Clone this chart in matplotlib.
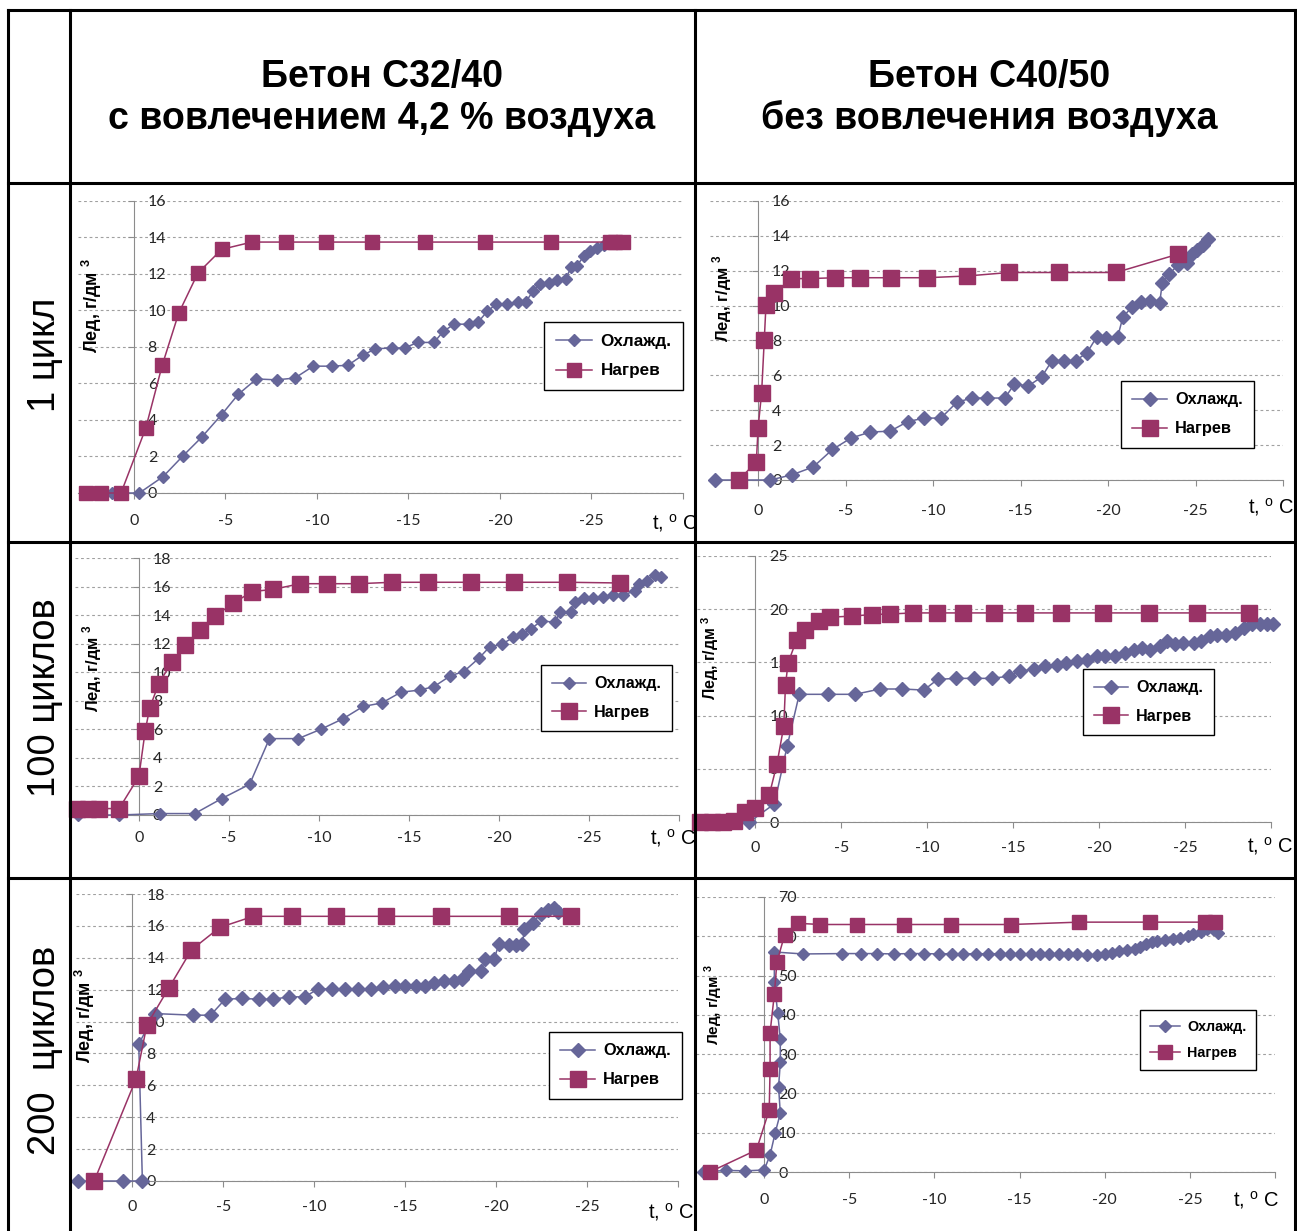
import matplotlib.pyplot as plt
from matplotlib.lines import Line2D

W, H = 1297, 1231
plt.rcParams['font.family'] = ['Liberation Sans', 'DejaVu Sans']
plt.rcParams['mathtext.fontset'] = 'custom'
plt.rcParams['mathtext.rm'] = 'Liberation Sans'
plt.rcParams['mathtext.bf'] = 'Liberation Sans:bold'

COOL = '#666699'
HEAT = '#993366'

# ---- данные: температура (°C) и лед (г/дм3) ----
# C32/40, 1 цикл
p1_cool_t = [2.6, 1.2, -0.3, -1.6, -2.7, -3.7, -4.8, -5.7, -6.7, -7.8, -8.8, -9.8, -10.8, -11.7,
             -12.5, -13.2, -14.1, -14.8, -15.5, -16.4, -16.9, -17.5, -18.3, -18.8, -19.3, -19.8,
             -20.4, -21.0, -21.4, -21.8, -22.2, -22.7, -23.1, -23.6, -23.9, -24.2, -24.6, -24.9,
             -25.3, -25.7, -26.0]
p1_cool_v = [0, 0, 0, 0.9, 2.05, 3.05, 4.3, 5.4, 6.25, 6.2, 6.3, 6.95, 6.95, 7.0, 7.55, 7.9, 7.95,
             7.95, 8.25, 8.25, 8.85, 9.25, 9.25, 9.35, 9.95, 10.35, 10.35, 10.45, 10.45, 11.05,
             11.45, 11.5, 11.65, 11.75, 12.4, 12.45, 13.0, 13.25, 13.45, 13.6, 13.75]
p1_heat_t = [2.6, 1.8, 0.7, -0.65, -1.55, -2.45, -3.5, -4.8, -6.45, -8.3, -10.5, -13.0, -15.9,
             -19.2, -22.8, -26.0, -26.3, -26.7]
p1_heat_v = [0, 0, 0, 3.55, 7.0, 9.85, 12.05, 13.35, 13.75, 13.75, 13.75, 13.75, 13.75, 13.75,
             13.75, 13.75, 13.75, 13.75]

# C40/50, 1 цикл
p2_cool_t = [2.45, 1.1, -0.7, -1.95, -3.15, -4.25, -5.3, -6.4, -7.55, -8.55, -9.5, -10.45, -11.35,
             -12.2, -13.1, -14.1, -14.65, -15.45, -16.2, -16.8, -17.5, -18.15, -18.8, -19.35,
             -19.9, -20.55, -20.85, -21.35, -21.9, -22.4, -22.95, -23.1, -23.5, -24.0, -24.5,
             -24.8, -25.1, -25.4, -25.7]
p2_cool_v = [0, 0, 0, 0.3, 0.75, 1.75, 2.4, 2.75, 2.8, 3.35, 3.55, 3.55, 4.45, 4.7, 4.7, 4.7, 5.5,
             5.4, 5.9, 6.85, 6.85, 6.85, 7.3, 8.2, 8.15, 8.2, 9.35, 9.9, 10.2, 10.25, 10.15, 11.3,
             11.8, 12.35, 12.45, 12.95, 13.2, 13.5, 13.8]
p2_heat_t = [1.1, 0.1, 0.0, -0.2, -0.35, -0.45, -0.9, -1.9, -2.95, -4.4, -5.85, -7.6, -9.65,
             -11.95, -14.35, -17.2, -20.45, -24.0]
p2_heat_v = [0, 1.05, 3.0, 5.0, 8.0, 10.05, 10.7, 11.55, 11.55, 11.6, 11.6, 11.6, 11.6, 11.7,
             11.9, 11.9, 11.9, 12.95]

# C32/40, 100 циклов
p3_cool_t = [3.4, 1.1, -1.15, -3.1, -4.6, -6.15, -7.25, -8.85, -10.1, -11.35, -12.45, -13.5,
             -14.55, -15.6, -16.4, -17.3, -18.05, -18.9, -19.5, -20.15, -20.8, -21.3, -21.8,
             -22.35, -23.1, -23.4, -24.0, -24.2, -24.7, -25.25, -25.8, -26.35, -26.9, -27.55,
             -27.8, -28.2, -28.65, -29.0]
p3_cool_v = [0, 0, 0.1, 0.1, 1.15, 2.15, 5.35, 5.35, 6.0, 6.75, 7.6, 7.85, 8.6, 8.75, 9.0, 9.75,
             10.05, 11.0, 11.8, 11.95, 12.45, 12.65, 13.05, 13.6, 13.5, 14.2, 14.2, 14.9, 15.2,
             15.2, 15.3, 15.4, 15.4, 15.7, 16.2, 16.4, 16.8, 16.7]
p3_heat_t = [3.45, 2.85, 2.2, 1.1, 0.0, -0.35, -0.6, -1.1, -1.85, -2.55, -3.4, -4.25, -5.25, -6.3,
             -7.45, -8.95, -10.45, -12.2, -14.05, -16.05, -18.45, -20.85, -23.8, -26.75]
p3_heat_v = [0.45, 0.45, 0.45, 0.45, 2.7, 5.9, 7.5, 9.2, 10.75, 11.9, 12.95, 13.95, 14.85, 15.65,
             15.8, 16.2, 16.2, 16.2, 16.3, 16.3, 16.3, 16.3, 16.3, 16.25]

# C40/50, 100 циклов
p4_cool_t = [3.25, 2.1, 0.35, -1.1, -1.85, -2.55, -4.25, -5.8, -7.25, -8.55, -9.8, -10.6, -11.65,
             -12.7, -13.75, -14.75, -15.4, -16.2, -16.85, -17.55, -18.1, -18.7, -19.3, -19.85,
             -20.35, -20.95, -21.5, -22.0, -22.5, -22.95, -23.55, -23.95, -24.4, -24.9, -25.5,
             -25.95, -26.45, -26.85, -27.4, -27.9, -28.4, -28.9, -29.35, -29.75, -30.1]
p4_cool_v = [0, 0, 0, 1.7, 7.15, 12.0, 12.0, 12.0, 12.5, 12.5, 12.4, 13.4, 13.5, 13.5, 13.5, 13.7,
             14.2, 14.35, 14.65, 14.8, 14.95, 15.1, 15.25, 15.6, 15.6, 15.6, 15.9, 16.2, 16.4,
             16.2, 16.5, 17.0, 16.7, 16.85, 16.85, 17.0, 17.5, 17.6, 17.6, 17.8, 18.25, 18.6,
             18.6, 18.6, 18.65]
p4_heat_t = [3.25, 2.55, 1.9, 1.25, 0.6, 0.0, -0.8, -1.25, -1.65, -1.75, -1.9, -2.4, -2.9, -3.7,
             -4.35, -5.6, -6.8, -7.85, -9.15, -10.55, -12.1, -13.9, -15.7, -17.8, -20.2, -22.9,
             -25.7, -28.7]
p4_heat_v = [0, 0, 0, 0.1, 0.9, 1.35, 2.5, 5.45, 9.0, 12.9, 14.95, 17.15, 18.0, 18.9, 19.25,
             19.35, 19.5, 19.55, 19.65, 19.65, 19.65, 19.65, 19.65, 19.65, 19.65, 19.65, 19.65,
             19.65]

# C32/40, 200 циклов
p5_cool_t = [3.0, 0.5, -0.55, -0.35, -1.25, -3.35, -4.3, -5.1, -6.05, -6.95, -7.75, -8.6, -9.5,
             -10.2, -11.0, -11.7, -12.4, -13.1, -13.8, -14.45, -15.0, -15.6, -16.1, -16.6, -17.15,
             -17.7, -18.15, -18.5, -19.15, -19.4, -19.9, -20.15, -20.7, -21.1, -21.45, -21.55,
             -22.0, -22.45, -22.85, -23.2, -23.4]
p5_cool_v = [0, 0, 0, 8.6, 10.5, 10.4, 10.4, 11.4, 11.45, 11.4, 11.4, 11.55, 11.55, 12.05, 12.05,
             12.05, 12.05, 12.05, 12.15, 12.25, 12.25, 12.25, 12.25, 12.4, 12.55, 12.55, 12.65,
             13.2, 13.15, 13.9, 13.95, 14.85, 14.8, 14.8, 14.85, 15.8, 16.2, 16.75, 17.0, 17.1,
             16.85]
p5_heat_t = [2.1, -0.2, -0.8, -2.0, -3.25, -4.8, -6.65, -8.75, -11.2, -13.95, -16.95, -20.7, -24.1]
p5_heat_v = [0, 6.4, 9.8, 12.1, 14.5, 15.9, 16.6, 16.6, 16.6, 16.6, 16.6, 16.6, 16.6]

# C40/50, 200 циклов
p6_cool_t = [3.6, 2.25, 1.1, 0.0, -0.35, -0.65, -0.95, -0.85, -0.95, -0.95, -0.8, -0.6, -0.6,
             -2.3, -4.6, -5.7, -6.65, -7.6, -8.55, -9.4, -10.25, -11.05, -11.7, -12.45, -13.15,
             -13.85, -14.45, -15.05, -15.65, -16.2, -16.75, -17.3, -17.85, -18.4, -18.95, -19.55,
             -20.0, -20.4, -20.85, -21.3, -21.75, -22.1, -22.45, -22.75, -23.1, -23.55, -24.0,
             -24.45, -24.9, -25.2, -25.65, -26.0, -26.35, -26.65]
p6_cool_v = [0, 0.4, 0.3, 0.5, 4.3, 10.0, 14.9, 21.7, 27.9, 33.8, 40.4, 48.3, 56.0,
             55.5, 55.6, 55.6, 55.6, 55.5, 55.6, 55.6, 55.5, 55.6, 55.5, 55.6, 55.5,
             55.6, 55.5, 55.6, 55.5, 55.6, 55.5, 55.5, 55.4, 55.4, 55.3, 55.3,
             55.4, 55.7, 56.2, 56.5, 56.8, 57.2, 58.0, 58.5, 58.9, 59.1, 59.3,
             59.6, 60.2, 60.6, 61.0, 61.8, 61.8, 60.8]
p6_heat_t = [3.2, 0.45, -0.3, -0.35, -0.35, -0.6, -0.75, -1.2, -2.0, -3.3, -5.45, -8.2, -11.0,
             -14.5, -18.5, -22.65, -25.9, -26.45]
p6_heat_v = [0, 5.6, 15.8, 26.3, 35.5, 45.2, 53.4, 60.3, 63.3, 63.0, 63.0, 63.0, 63.0, 63.0,
             63.6, 63.6, 63.6, 63.6]

x_ticks = [0, -5, -10, -15, -20, -25, -30]
x_labels = ['0', '-5', '-10', '-15', '-20', '-25', '']

col_titles = ['Бетон С32/40\nс вовлечением 4,2 % воздуха',
              'Бетон С40/50\nбез вовлечения воздуха']
row_titles = ['1 цикл', '100 циклов', '200  циклов']
series_names = ['Охлажд.', 'Нагрев']
y_title = 'Лед, г/дм $^{\\mathbf{3}}$'
t_title = 't, $^{\\mathrm{o}}$ C'

fig = plt.figure(figsize=(W / 100, H / 100), dpi=100)


def fx(px):
    return px / W


def fy(py):
    return 1 - py / H


# сетка таблицы
for x in (8, 70, 695, 1295):
    fig.add_artist(Line2D([fx(x), fx(x)], [fy(10), fy(1231)], color='black', lw=2.2, zorder=10))
for y in (10, 183, 542, 878):
    fig.add_artist(Line2D([fx(8), fx(1297)], [fy(y), fy(y)], color='black', lw=2.2, zorder=10))

fig.text(fx(382), fy(98), col_titles[0], ha='center', va='center', fontsize=27,
         weight='bold', linespacing=1.2)
fig.text(fx(989), fy(98), col_titles[1], ha='center', va='center', fontsize=27,
         weight='bold', linespacing=1.2)
for name, yc in zip(row_titles, (355, 698, 1050)):
    fig.text(fx(45), fy(yc), name, ha='center', va='center', fontsize=27.5, rotation=90)

# (left, right, top, bottom) в пикселях
panels = [
    dict(cool=(p1_cool_t, p1_cool_v), heat=(p1_heat_t, p1_heat_v), box=(78, 683, 201, 493),
         xlim=(3.05, -30), ymax=16, ystep=2, leg=(544, 322), ylab=(92, 305), yfs=13,
         tlab=(652, 523), ms=(6.6, 10), xpad=10.8, lfs=12.3),
    dict(cool=(p2_cool_t, p2_cool_v), heat=(p2_heat_t, p2_heat_v), box=(710, 1283, 201, 480),
         xlim=(2.75, -30), ymax=16, ystep=2, leg=(1121, 381), ylab=(722, 298), yfs=12,
         tlab=(1248, 507), ms=(7.5, 11.5), xpad=13, lfs=11.8),
    dict(cool=(p3_cool_t, p3_cool_v), heat=(p3_heat_t, p3_heat_v), box=(75, 679, 558, 815),
         xlim=(3.55, -30), ymax=18, ystep=2, leg=(541, 665), ylab=(92, 668), yfs=12,
         tlab=(650, 838), ms=(6.5, 11), xpad=7.2, lfs=11.6),
    dict(cool=(p4_cool_t, p4_cool_v), heat=(p4_heat_t, p4_heat_v), box=(697, 1271, 556, 822),
         xlim=(3.4, -30), ymax=25, ystep=5, leg=(1083, 669), ylab=(710, 658), yfs=11.5,
         tlab=(1247, 846), ms=(7, 11.5), xpad=9.4, lfs=11.6),
    dict(cool=(p5_cool_t, p5_cool_v), heat=(p5_heat_t, p5_heat_v), box=(76, 678, 894, 1181),
         xlim=(3.1, -30), ymax=18, ystep=2, leg=(549, 1032), ylab=(85, 1015), yfs=13,
         tlab=(648, 1212), ms=(7.5, 11), xpad=10, lfs=11.8),
    dict(cool=(p6_cool_t, p6_cool_v), heat=(p6_heat_t, p6_heat_v), box=(696, 1275, 897, 1172),
         xlim=(4, -29.5), ymax=70, ystep=10, leg=(1140, 1010), ylab=(714, 1005), yfs=11,
         tlab=(1233, 1200), ms=(6.5, 10.5), xpad=10.8, lfs=10.3),
]

for p in panels:
    l, r, t, b = p['box']
    ax = fig.add_axes([fx(l), fy(b), (r - l) / W, (b - t) / H])
    ax.set_facecolor('none')
    ax.set_xlim(*p['xlim'])
    ax.set_ylim(0, p['ymax'])

    c_line, = ax.plot(p['cool'][0], p['cool'][1], color=COOL, lw=1.1, marker='D',
                      ms=p['ms'][0], mec=COOL, clip_on=False, zorder=3, label=series_names[0])
    h_line, = ax.plot(p['heat'][0], p['heat'][1], color=HEAT, lw=1.1, marker='s',
                      ms=p['ms'][1], mec=HEAT, clip_on=False, zorder=4, label=series_names[1])

    for s in ('top', 'right'):
        ax.spines[s].set_visible(False)
    ax.spines['left'].set_position(('data', 0))
    for s in ('left', 'bottom'):
        ax.spines[s].set_color('#8c8c8c')
        ax.spines[s].set_linewidth(0.8)

    ax.set_xticks(x_ticks)
    ax.set_xticklabels(x_labels)
    yt = list(range(0, p['ymax'] + 1, p['ystep']))
    ax.set_yticks(yt)
    ax.set_yticklabels([str(v) for v in yt], ha='left')
    ax.tick_params(axis='x', direction='out', length=4, width=0.8, color='#8c8c8c',
                   pad=p['xpad'], labelsize=11.5, labelcolor='#262626')
    ax.tick_params(axis='y', direction='out', length=4, width=0.8, color='#8c8c8c',
                   pad=-14, labelsize=11.5, labelcolor='#262626')
    for lab in ax.get_xticklabels() + ax.get_yticklabels():
        lab.set_family(['Lato', 'DejaVu Sans'])
    ax.yaxis.grid(True, ls=(0, (2.5, 2.5)), color='#a0a0a0', lw=0.8)
    ax.set_axisbelow(True)

    fig.text(fx(p['ylab'][0]), fy(p['ylab'][1]), y_title, rotation=90, ha='center',
             va='center', fontsize=p['yfs'], weight='bold')
    fig.text(fx(p['tlab'][0]), fy(p['tlab'][1]), t_title, ha='left', va='center', fontsize=14.5)

    leg = ax.legend(handles=[c_line, h_line], loc='upper left',
                    bbox_to_anchor=(fx(p['leg'][0]), fy(p['leg'][1])),
                    bbox_transform=fig.transFigure, borderaxespad=0, fancybox=False,
                    framealpha=1, edgecolor='black', handlelength=2.1, handletextpad=0.5,
                    borderpad=0.7, labelspacing=0.85, prop=dict(size=p['lfs'], weight='bold'))
    leg.get_frame().set_linewidth(1.0)
    leg.set_zorder(6)

fig.savefig('out.png', dpi=100, facecolor='white')
